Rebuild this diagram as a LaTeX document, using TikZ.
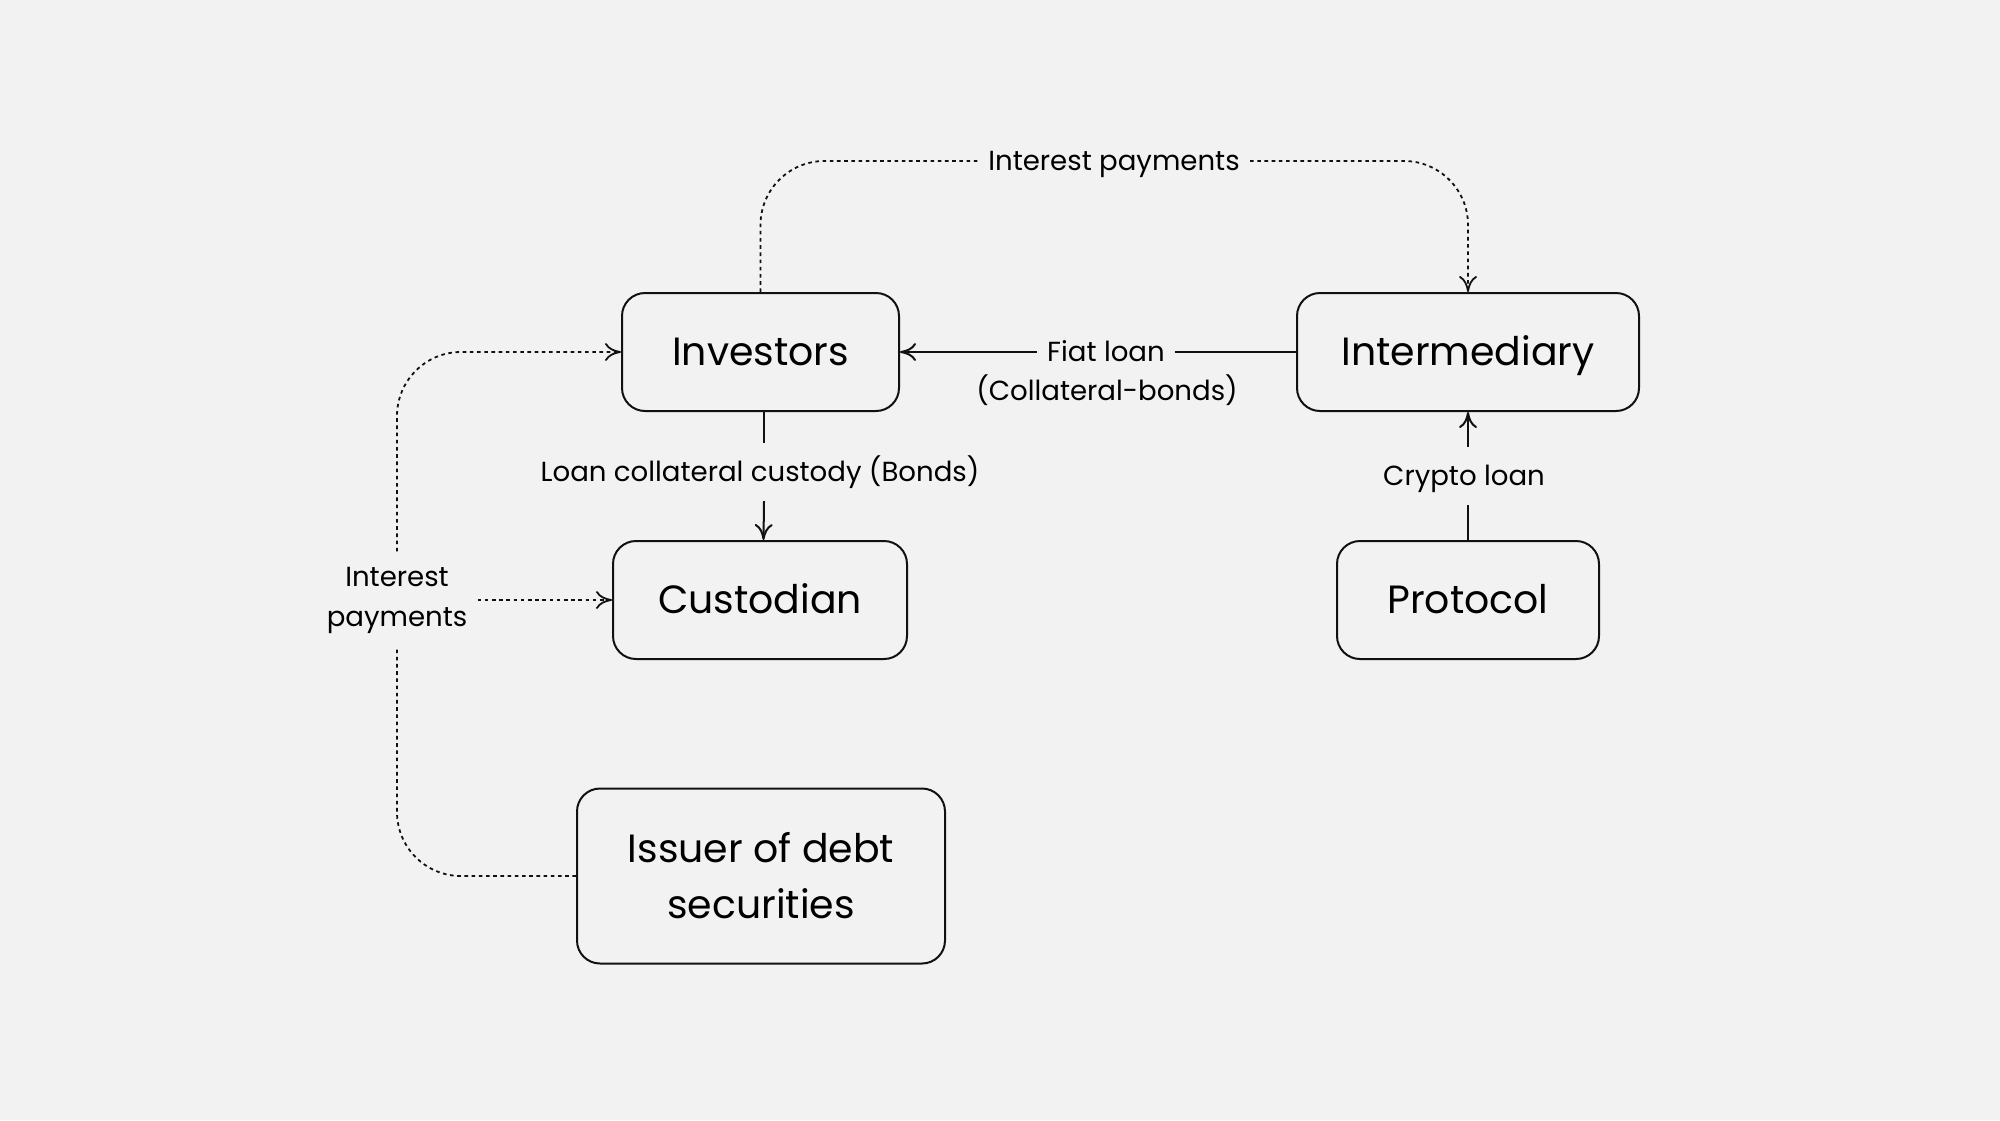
\documentclass[tikz,border=0pt]{standalone}
\usepackage{fontspec}
\setmainfont{Poppins}
\usetikzlibrary{arrows.meta}
\definecolor{bg}{HTML}{F2F2F2}
\definecolor{ink}{HTML}{111111}
\begin{document}
\begin{tikzpicture}[x=0.5pt,y=-0.5pt,
  box/.style={draw=ink, line width=1pt, rounded corners=11.5pt, minimum height=59pt,
    align=center, font=\fontsize{19.7}{28}\selectfont, text=black, inner sep=0pt},
  onebox/.style={box, text height=13.75pt, text depth=0pt},
  lab/.style={fill=bg, font=\fontsize{13.8}{20}\selectfont, inner xsep=5pt, inner ysep=9.5pt,
    text height=9.65pt, text depth=0pt, align=center, text=black},
  twolab/.style={fill=bg, font=\fontsize{13.8}{20}\selectfont, inner xsep=5pt, inner ysep=7.5pt,
    align=center, text=black},
  conn/.style={draw=ink, line width=1pt},
  dotline/.style={draw=ink, line width=0.9pt, dash pattern=on 1.8pt off 1.8pt, rounded corners=32pt},
  arr/.style={-{Computer Modern Rightarrow[length=8pt,width=9pt]}}]
\fill[bg] (0,0) rectangle (2000,1120);
\useasboundingbox (0,0) rectangle (2000,1120);

% boxes
\node[onebox, minimum width=138.5pt] (inv) at (760.5,352) {Investors};
\node[onebox, minimum width=171pt] (int) at (1468,352) {Intermediary};
\node[onebox, minimum width=147pt] (cust) at (760,600) {Custodian};
\node[onebox, minimum width=131pt] (prot) at (1468,600) {Protocol};
\node[box, minimum width=184pt, minimum height=87.5pt] (iss) at (761,876) {Issuer of debt\\securities};

% labels
\node[lab] (toplab) at (1114,161) {Interest payments};
\node[lab, inner ysep=3pt] (fiat) at (1106,352) {Fiat loan};
\node[font=\fontsize{13.8}{20}\selectfont, text=black] (coll) at (1107,390) {(Collateral-bonds)};
\node[lab] (loanlab) at (760,472) {Loan collateral custody (Bonds)};
\node[lab] (cryptolab) at (1464,476) {Crypto loan};
\node[twolab] (leftlab) at (397,600) {Interest\\payments};

% solid connectors
\draw[conn] (int.west) -- (fiat.east);
\draw[conn, arr] (fiat.west) -- (inv.east);
\draw[conn] ([xshift=1.75pt]inv.south) -- ([xshift=1.75pt]inv.south |- loanlab.north);
\draw[conn, arr] ([xshift=1.75pt]inv.south |- loanlab.south) -- ([xshift=1.75pt]cust.north);
\draw[conn] (prot.north) -- (prot.north |- cryptolab.south);
\draw[conn, arr] (prot.north |- cryptolab.north) -- (int.south);

% dotted connectors
\draw[dotline] (inv.north) |- (toplab.west);
\draw[dotline, arr] (toplab.east) -| (int.north);
\draw[dotline] (iss.west) -| (leftlab.south);
\draw[dotline, arr] (leftlab.north) |- (inv.west);
\draw[dotline, arr] (leftlab.east) -- (cust.west);
\end{tikzpicture}
\end{document}
